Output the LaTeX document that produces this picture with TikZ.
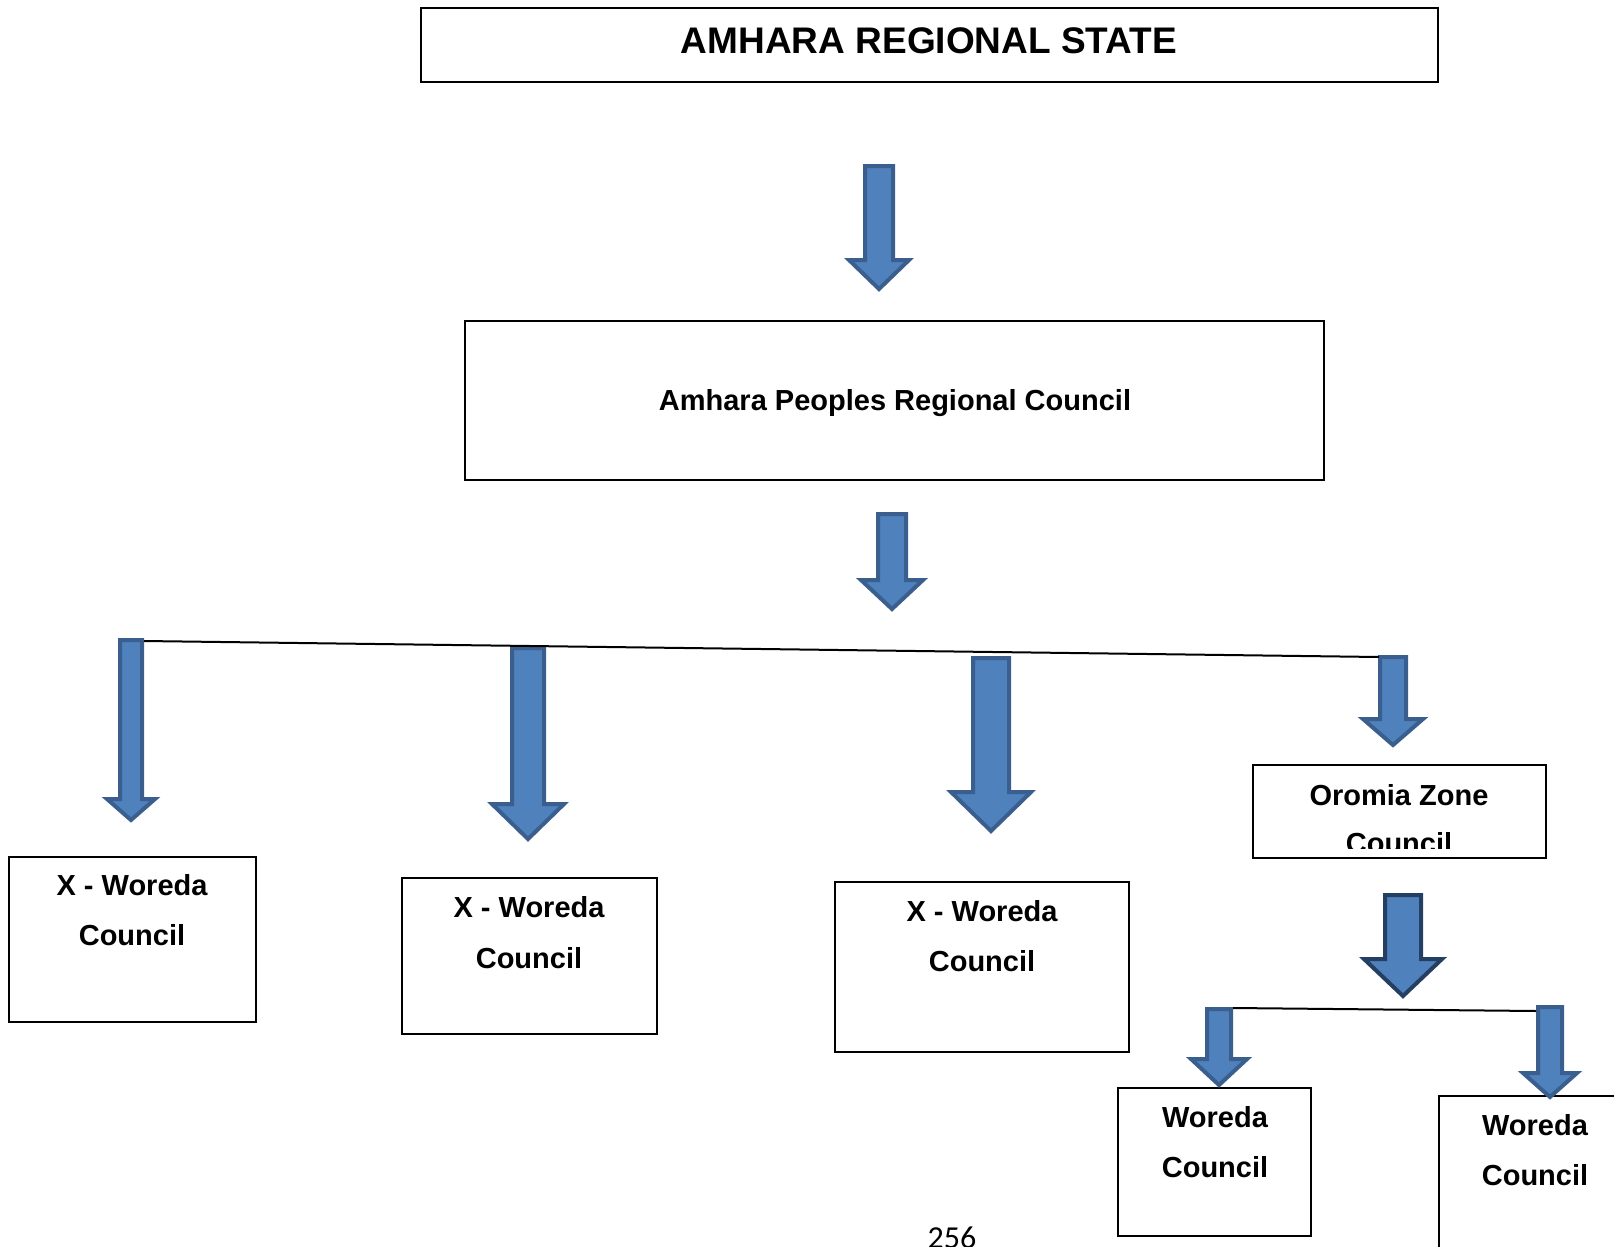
\documentclass[tikz,border=0pt]{standalone}
\usepackage{fontspec}
\setmainfont{Liberation Sans}
\newfontfamily\pagefont{Carlito}
\definecolor{arrfill}{HTML}{4F81BD}
\definecolor{arrline}{HTML}{3A5F8F}
\definecolor{arrdark}{HTML}{243F62}
\tikzset{
  orgbox/.style={draw=black, line width=2pt, rectangle, inner sep=0pt},
  blkarr/.style={fill=arrfill, line width=4pt, line join=miter},
  lbl/.style={font=\bfseries\fontsize{29}{35}\selectfont, anchor=base, inner sep=0pt},
  tie/.style={draw=black, line width=2pt}
}
% #1 outline colour, #2 cx, #3 top, #4 shaft half, #5 head half, #6 head start, #7 tip
\newcommand{\blkarrow}[7][arrline]{%
  \draw[blkarr, draw=#1] (#2-#4,#3) -- (#2+#4,#3) -- (#2+#4,#6) -- (#2+#5,#6)
    -- (#2,#7) -- (#2-#5,#6) -- (#2-#4,#6) -- cycle;}
\newcommand{\orgrect}[5]{% name, x1, y1, x2, y2
  \node[orgbox, minimum width=#4-#2, minimum height=#5-#3] (#1) at ({(#2+#4)/2},{(#3+#5)/2}) {};}
\begin{document}
\begin{tikzpicture}[x=1pt,y=-1pt]
\useasboundingbox (0,0) rectangle (1614,1247);
\clip (0,0) rectangle (1614,1247);

% boxes
\orgrect{top}{421}{8}{1438}{82}
\node[font=\bfseries\fontsize{37}{44}\selectfont, anchor=base, inner sep=0pt] (ttop) at (929,53) {AMHARA REGIONAL STATE};

\orgrect{council}{465}{321}{1324}{480}
\node[lbl] (tcouncil) at (895,410) {Amhara Peoples Regional Council};

\orgrect{wa}{9}{857}{256}{1022}
\node[lbl] (wa1) at (132,895) {X - Woreda};
\node[lbl] (wa2) at (132,945) {Council};

\orgrect{wb}{402}{878}{657}{1034}
\node[lbl] (wb1) at (529,917) {X - Woreda};
\node[lbl] (wb2) at (529,968) {Council};

\orgrect{wc}{835}{882}{1129}{1052}
\node[lbl] (wc1) at (982,921) {X - Woreda};
\node[lbl] (wc2) at (982,971) {Council};

\orgrect{oz}{1253}{765}{1546}{858}
\node[lbl] (oz1) at (1399,805) {Oromia Zone};
\begin{scope}
  \clip (1255,767) rectangle (1544,848);
  \node[lbl] (oz2) at (1399,853) {Council};
\end{scope}

\orgrect{wf}{1118}{1088}{1311}{1236}
\node[lbl] (wf1) at (1215,1127) {Woreda};
\node[lbl] (wf2) at (1215,1177) {Council};

\orgrect{wg}{1439}{1096}{1640}{1280}
\node[lbl] (wg1) at (1535,1135) {Woreda};
\node[lbl] (wg2) at (1535,1185) {Council};

% page number
\node[font=\pagefont\fontsize{32}{38}\selectfont, anchor=base, inner sep=0pt] (pnum) at (952,1248) {256};

% block arrows
\blkarrow{879}{166}{14}{30}{260}{289}
\blkarrow{892}{514}{14}{31}{580}{609}
\blkarrow{131}{640}{11}{24}{799}{820}
\blkarrow{528}{648}{16}{36}{804}{839}
\blkarrow{991}{658}{18}{40}{792}{831}
\blkarrow{1393}{657}{13}{30}{719}{745}
\blkarrow[arrdark]{1403}{895}{18}{39}{959}{996}
\blkarrow{1219}{1009}{12}{28}{1059}{1085}
\blkarrow{1550}{1007}{12}{27}{1073}{1097}

% tie lines
\coordinate (l1a) at (144,641);
\coordinate (l1b) at (1379,657);
\coordinate (l2a) at (1233,1008);
\coordinate (l2b) at (1536,1011);
\draw[tie] (l1a) -- (l1b);
\draw[tie] (l2a) -- (l2b);
\end{tikzpicture}
\end{document}
